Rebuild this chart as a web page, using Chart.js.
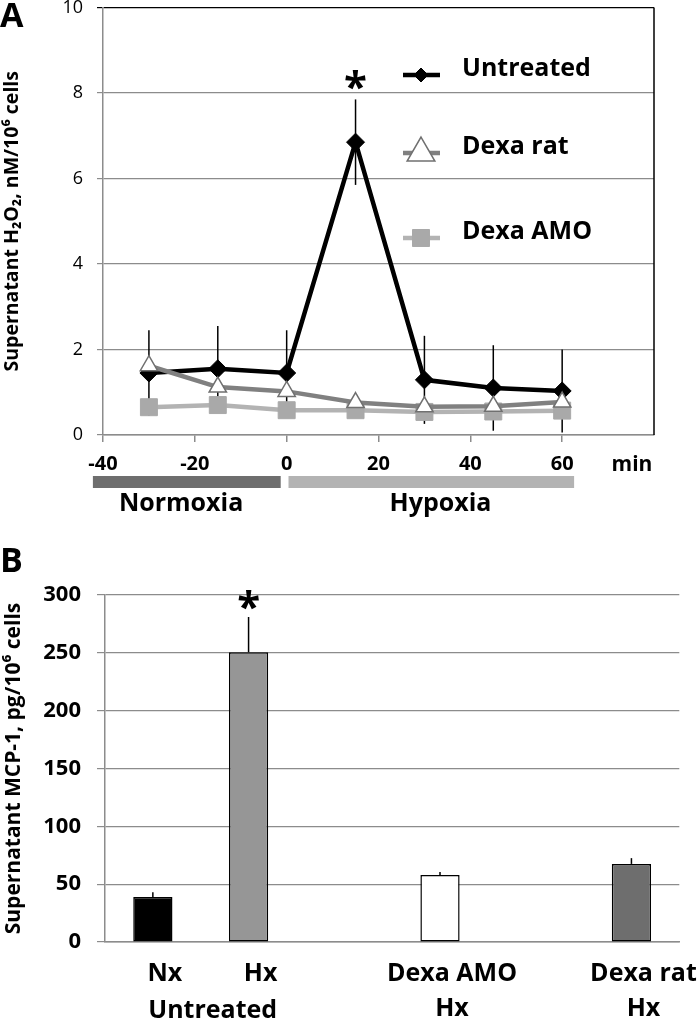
<!DOCTYPE html>
<html>
<head>
<meta charset="utf-8">
<script src="https://cdn.jsdelivr.net/npm/chart.js@4.4.0/dist/chart.umd.min.js"></script>
<style>
  html, body { margin: 0; padding: 0; background: #fff; }
  #page { position: relative; width: 700px; height: 1019px; overflow: hidden; }
  .panel-label { position: absolute; left: 0; font: bold 34px 'Open Sans', sans-serif; line-height: 1; color: #000; }
  #wrapA { position: absolute; left: 0; top: -20px; }
  #wrapB { position: absolute; left: 0; top: 525px; }
  canvas { display: block; }
</style>
</head>
<body>
<div id="page">
  <div id="wrapA"><canvas id="chartA" width="700" height="545"></canvas></div>
  <div id="wrapB"><canvas id="chartB" width="700" height="494"></canvas></div>
  <div class="panel-label" style="top:-3px">A</div>
  <div class="panel-label" style="top:542px">B</div>
</div>
<script>
// Panel A: H2O2 in supernatant over time (min)
const times = [-30, -15, 0, 15, 30, 45, 60];
const untreated = [1.45, 1.55, 1.45, 6.85, 1.29, 1.10, 1.03];
const untreatedSd = [1.0, 1.0, 1.0, 1.0, 1.03, 1.0, 0.97];
const dexaRat = [1.62, 1.12, 1.02, 0.76, 0.66, 0.67, 0.77];
const dexaAmo = [0.65, 0.70, 0.58, 0.58, 0.54, 0.55, 0.57];

const phases = ['Normoxia', 'Hypoxia'];
const phaseFrom = [-42.2, 0.4];
const phaseTo = [-1.3, 62.6];
const phaseLabelAt = [-23, 33.5];
const phaseColors = ['#6e6e6e', '#b3b3b3'];

// Panel B: MCP-1 in supernatant
const groups = ['Nx', 'Hx', '', ['Dexa AMO', 'Hx'], '', ['Dexa rat', 'Hx']];
const mcp1 = [39, 250.5, null, 58, null, 67.5];
const mcp1Err = [4, 30.5, null, 2.5, null, 5];
const barFill = ['#000000', '#969696', '#ffffff', '#ffffff', '#ffffff', '#6e6e6e'];

Chart.defaults.font.family = "'Open Sans', sans-serif";
Chart.defaults.color = '#000';

const GRID = '#8c8c8c';

function drawMarker(ctx, style, x, y, r, fill, stroke, lw) {
  ctx.beginPath();
  if (style === 'rectRot') {
    ctx.moveTo(x, y - r); ctx.lineTo(x + r, y); ctx.lineTo(x, y + r); ctx.lineTo(x - r, y);
  } else if (style === 'triangle') {
    for (let k = 0; k < 3; k++) {
      const ang = k * 2 * Math.PI / 3;
      const px = x + Math.sin(ang) * r, py = y - Math.cos(ang) * r;
      if (k === 0) ctx.moveTo(px, py); else ctx.lineTo(px, py);
    }
  } else {
    const h = r * Math.SQRT1_2;
    ctx.rect(x - h, y - h, 2 * h, 2 * h);
  }
  ctx.closePath();
  ctx.fillStyle = fill; ctx.fill();
  ctx.lineWidth = lw; ctx.strokeStyle = stroke; ctx.stroke();
}

// error bars sit behind the lines
const errorBarsA = {
  id: 'errorBarsA',
  beforeDatasetsDraw(chart) {
    const { ctx, scales: { x, y } } = chart;
    ctx.save();
    ctx.strokeStyle = '#000';
    ctx.lineWidth = 1.5;
    times.forEach((t, i) => {
      const px = x.getPixelForValue(t);
      ctx.beginPath();
      ctx.moveTo(px, y.getPixelForValue(untreated[i] - untreatedSd[i]));
      ctx.lineTo(px, y.getPixelForValue(untreated[i] + untreatedSd[i]));
      ctx.stroke();
    });
    ctx.restore();
  }
};

const decorA = {
  id: 'decorA',
  afterDraw(chart) {
    const { ctx, chartArea: a, scales: { x, y } } = chart;
    ctx.save();
    // right border of plot
    ctx.strokeStyle = '#000';
    ctx.lineWidth = 1.5;
    ctx.beginPath();
    ctx.moveTo(a.right, a.top);
    ctx.lineTo(a.right, a.bottom);
    ctx.stroke();

    ctx.fillStyle = '#000';
    ctx.textAlign = 'center';
    ctx.textBaseline = 'middle';

    // asterisk over the peak
    const peak = untreated.indexOf(Math.max(...untreated));
    ctx.font = "bold 42px 'Open Sans'";
    ctx.fillText('*', x.getPixelForValue(times[peak]),
      y.getPixelForValue(untreated[peak] + untreatedSd[peak]) - 10);

    // unit
    ctx.font = "bold 21px 'Open Sans'";
    ctx.fillText('min', a.right - 22, a.bottom + 30);

    // normoxia / hypoxia bars
    phases.forEach((name, i) => {
      const x0 = x.getPixelForValue(phaseFrom[i]);
      const x1 = x.getPixelForValue(phaseTo[i]);
      ctx.fillStyle = phaseColors[i];
      ctx.fillRect(x0, a.bottom + 41, x1 - x0, 12);
      ctx.fillStyle = '#000';
      ctx.font = "bold 25px 'Open Sans'";
      ctx.fillText(name, x.getPixelForValue(phaseLabelAt[i]), a.bottom + 69);
    });

    // legend inside the plot
    const rows = [67.5, 145.5, 230.5];
    const legendSize = [7, 16, 12];
    [0, 1, 2].forEach((di, k) => {
      const ds = chart.data.datasets[di];
      const cy = a.top + rows[k];
      const cx = a.left + 318;
      ctx.strokeStyle = ds.borderColor;
      ctx.lineWidth = ds.borderWidth;
      ctx.beginPath();
      ctx.moveTo(cx - 18, cy);
      ctx.lineTo(cx + 19, cy);
      ctx.stroke();
      drawMarker(ctx, ds.pointStyle, cx, cy, legendSize[k],
        ds.pointBackgroundColor, ds.pointBorderColor, ds.pointBorderWidth);
      ctx.fillStyle = '#000';
      ctx.textAlign = 'left';
      ctx.font = "bold 25px 'Open Sans'";
      ctx.fillText(ds.label, a.left + 359, cy - 6);
    });
    ctx.restore();
  }
};

const chartA = new Chart(document.getElementById('chartA'), {
  type: 'line',
  data: {
    datasets: [{
      label: 'Untreated',
      data: times.map((t, i) => ({ x: t, y: untreated[i] })),
      borderColor: '#000',
      borderWidth: 4.5,
      pointStyle: 'rectRot',
      pointRadius: 9,
      pointBackgroundColor: '#000',
      pointBorderColor: '#000',
      pointBorderWidth: 1,
      order: 1
    }, {
      label: 'Dexa rat',
      data: times.map((t, i) => ({ x: t, y: dexaRat[i] })),
      borderColor: '#808080',
      borderWidth: 4.5,
      pointStyle: 'triangle',
      pointRadius: 10,
      pointBackgroundColor: '#fff',
      pointBorderColor: '#707070',
      pointBorderWidth: 1.5,
      order: 0
    }, {
      label: 'Dexa AMO',
      data: times.map((t, i) => ({ x: t, y: dexaAmo[i] })),
      borderColor: '#b3b3b3',
      borderWidth: 4.5,
      pointStyle: 'rect',
      pointRadius: 12,
      pointBackgroundColor: '#a9a9a9',
      pointBorderColor: '#a9a9a9',
      pointBorderWidth: 1,
      order: 2
    }]
  },
  options: {
    responsive: false,
    animation: false,
    layout: { padding: { top: 27.5, right: 46, left: 0, bottom: 0 } },
    plugins: { legend: { display: false }, tooltip: { enabled: false } },
    scales: {
      x: {
        type: 'linear',
        min: -40,
        max: 80,
        afterBuildTicks: s => { s.ticks = s.ticks.filter(t => t.value <= 60); },
        afterFit: s => { s.height = 90; },
        ticks: { stepSize: 20, font: { size: 20, weight: 'bold' }, padding: 10, maxRotation: 0 },
        grid: { drawOnChartArea: false, tickLength: 7, color: GRID, lineWidth: 1.5 },
        border: { color: GRID, width: 1.5 }
      },
      y: {
        min: 0,
        max: 10,
        afterFit: s => { s.width = 103; },
        ticks: { stepSize: 2, font: { size: 18 }, padding: 14 },
        grid: { color: c => (c.tick && c.tick.value === 10 ? '#000' : GRID), lineWidth: 1.2, tickLength: 6 },
        border: { color: GRID, width: 1.5 },
        title: {
          display: true,
          text: 'Supernatant H₂O₂, nM/10⁶ cells',
          font: { size: 19.5, weight: 'bold' },
          padding: { top: 1, bottom: 0 }
        }
      }
    }
  },
  plugins: [errorBarsA, decorA]
});

const decorB = {
  id: 'decorB',
  afterDatasetsDraw(chart) {
    const { ctx, chartArea: a, scales: { x, y } } = chart;
    const meta = chart.getDatasetMeta(0);
    ctx.save();
    ctx.strokeStyle = '#000';
    ctx.lineWidth = 1.5;
    mcp1.forEach((v, i) => {
      if (v == null) return;
      const bx = meta.data[i].x;
      ctx.beginPath();
      ctx.moveTo(bx, y.getPixelForValue(v));
      ctx.lineTo(bx, y.getPixelForValue(v + mcp1Err[i]));
      ctx.stroke();
    });

    ctx.fillStyle = '#000';
    ctx.textAlign = 'center';
    ctx.textBaseline = 'middle';
    const top = mcp1.indexOf(Math.max(...mcp1.filter(v => v != null)));
    ctx.font = "bold 42px 'Open Sans'";
    ctx.fillText('*', meta.data[top].x, y.getPixelForValue(mcp1[top] + mcp1Err[top]) - 8);

    // group label under Nx / Hx
    ctx.font = "bold 25px 'Open Sans'";
    const mid = (x.getPixelForValue(0) + x.getPixelForValue(1)) / 2 + 12;
    ctx.fillText('Untreated', mid, a.bottom + 69);
    ctx.restore();
  }
};

const chartB = new Chart(document.getElementById('chartB'), {
  type: 'bar',
  data: {
    labels: groups,
    datasets: [{
      data: mcp1,
      backgroundColor: barFill,
      borderColor: '#000',
      borderWidth: 1.5,
      borderSkipped: false,
      barPercentage: 0.41,
      categoryPercentage: 1
    }]
  },
  options: {
    responsive: false,
    animation: false,
    layout: { padding: { top: 70, right: 15, left: 0, bottom: 0 } },
    plugins: { legend: { display: false }, tooltip: { enabled: false } },
    scales: {
      x: {
        afterFit: s => { s.height = 77; },
        ticks: { font: { size: 25, weight: 'bold', lineHeight: 1.4 }, padding: 14, labelOffset: 12, autoSkip: false, maxRotation: 0 },
        grid: { drawOnChartArea: false, drawTicks: false },
        border: { color: GRID, width: 1.5 }
      },
      y: {
        min: 0,
        max: 300,
        afterFit: s => { s.width = 105; },
        ticks: { stepSize: 50, font: { size: 22, weight: 'bold' }, padding: 16 },
        grid: { color: GRID, lineWidth: 1.2, tickLength: 8 },
        border: { color: GRID, width: 1.5 },
        title: {
          display: true,
          text: 'Supernatant MCP-1, pg/10⁶ cells',
          font: { size: 21, weight: 'bold' },
          padding: { top: 1, bottom: 0 }
        }
      }
    }
  },
  plugins: [decorB]
});
</script>
</body>
</html>
